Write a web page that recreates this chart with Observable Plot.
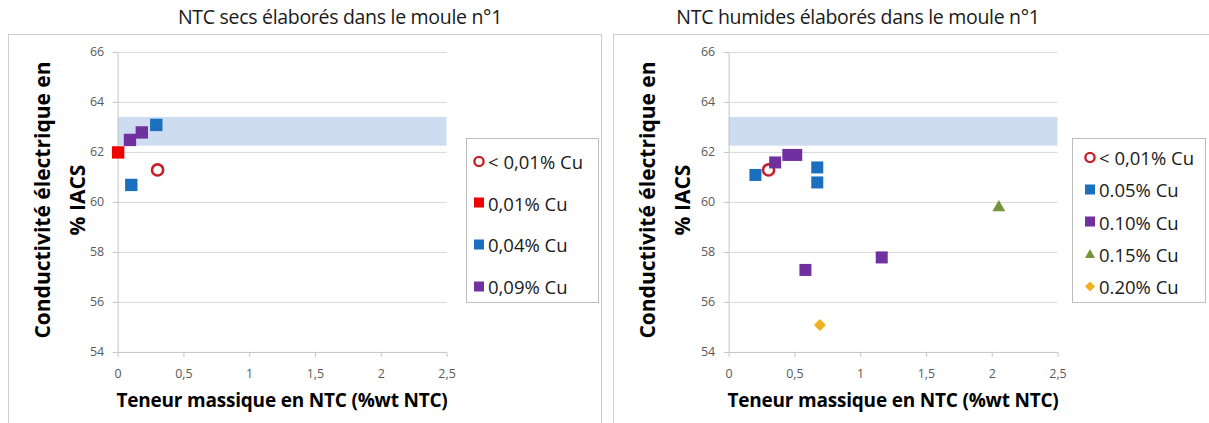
<!DOCTYPE html>
<html><head><meta charset="utf-8">
<script src="https://cdn.jsdelivr.net/npm/d3@7"></script>
<script src="https://cdn.jsdelivr.net/npm/@observablehq/plot@0.6"></script>
<style>
body{margin:0;background:#fff;font-family:"Open Sans",sans-serif;}
#root{position:relative;width:1209px;height:423px;overflow:hidden;background:#fff;}
.panel{position:absolute;border:1px solid #cfcfcf;box-sizing:border-box;background:#fff;}
.panel svg{position:absolute;left:0;top:0;}
.title{position:absolute;font-size:19.5px;letter-spacing:-0.3px;color:#1a1a1a;white-space:nowrap;transform:translate(-50%,-50%);}
.ylab{position:absolute;font-size:21px;font-weight:bold;color:#000;white-space:nowrap;text-align:center;line-height:35px;transform:translate(-50%,-50%) rotate(-90deg);}
.xlab{position:absolute;font-size:19px;letter-spacing:-0.2px;font-weight:bold;color:#000;white-space:nowrap;transform:translate(-50%,-50%);}
.legend{position:absolute;border:1px solid #bdbdbd;box-sizing:border-box;background:#fff;}
.li{position:absolute;font-size:18.5px;color:#1a1a1a;white-space:nowrap;display:flex;align-items:center;transform:translateY(-50%);}
.li svg{margin-right:3px;}
</style>
</head><body><div id="root"></div>
<script>
// ---- data ----
const xTicks = [0, 0.5, 1, 1.5, 2, 2.5];
const yTicks = [54, 56, 58, 60, 62, 64, 66];
const bandLow = 62.25, bandHigh = 63.4;

const titles = ["NTC secs élaborés dans le moule n°1", "NTC humides élaborés dans le moule n°1"];
const yLabelLines = ["Conductivité électrique en", "% IACS"];
const xLabel = "Teneur massique en NTC (%wt NTC)";

// dry CNT panel
const secSeries = ["< 0,01% Cu", "0,01% Cu", "0,04% Cu", "0,09% Cu"];
const secSeriesOf = ["< 0,01% Cu", "0,01% Cu", "0,09% Cu", "0,09% Cu", "0,04% Cu", "0,04% Cu"];
const secX = [0.30, 0.00, 0.09, 0.18, 0.29, 0.10];
const secY = [61.3, 62.0, 62.5, 62.8, 63.1, 60.7];

// wet CNT panel
const humSeries = ["< 0,01% Cu", "0.05% Cu", "0.10% Cu", "0.15% Cu", "0.20% Cu"];
const humSeriesOf = ["< 0,01% Cu", "0.05% Cu", "0.05% Cu", "0.05% Cu", "0.10% Cu", "0.10% Cu", "0.10% Cu", "0.10% Cu", "0.10% Cu", "0.15% Cu", "0.20% Cu"];
const humX = [0.30, 0.20, 0.67, 0.67, 0.35, 0.45, 0.51, 0.58, 1.16, 2.05, 0.69];
const humY = [61.3, 61.1, 61.4, 60.8, 61.6, 61.9, 61.9, 57.3, 57.8, 59.8, 55.1];

// ---- styles ----
const styleOf = {
  "< 0,01% Cu": {symbol: "circle", fill: "white", stroke: "#c8202a", r: 5.6, sw: 2.6},
  "0,01% Cu":   {symbol: "square", fill: "#f00000", stroke: "none", r: 7, sw: 0},
  "0,04% Cu":   {symbol: "square", fill: "#1b6fbf", stroke: "none", r: 7, sw: 0},
  "0,09% Cu":   {symbol: "square", fill: "#7030a0", stroke: "none", r: 7, sw: 0},
  "0.05% Cu":   {symbol: "square", fill: "#1b6fbf", stroke: "none", r: 6.8, sw: 0},
  "0.10% Cu":   {symbol: "square", fill: "#7030a0", stroke: "none", r: 6.8, sw: 0},
  "0.15% Cu":   {symbol: "triangle", fill: "#77933c", stroke: "none", r: 4.8, sw: 0},
  "0.20% Cu":   {symbol: "diamond2", fill: "#f2b01e", stroke: "none", r: 5.4, sw: 0}
};

const root = document.getElementById("root");
const fmtX = d => String(d).replace(".", ",");

function makePanel(cfg) {
  const data = cfg.xs.map((x, i) => ({x, y: cfg.ys[i], s: cfg.seriesOf[i]}));
  const panel = document.createElement("div");
  panel.className = "panel";
  Object.assign(panel.style, {left: cfg.left + "px", top: cfg.top + "px", width: cfg.width + "px", height: "400px"});
  root.appendChild(panel);

  const dotMarks = cfg.series.map(name => {
    const st = styleOf[name];
    return Plot.dot(data.filter(d => d.s === name), {
      x: "x", y: "y", symbol: st.symbol, r: st.r,
      fill: st.fill, stroke: st.stroke, strokeWidth: st.sw
    });
  });

  const svg = Plot.plot({
    width: cfg.width, height: 389,
    marginLeft: cfg.ml, marginRight: cfg.mr, marginTop: 17, marginBottom: 71,
    style: {fontFamily: "Open Sans, sans-serif", fontSize: "12.5px", color: "#595959", background: "transparent"},
    x: {domain: [0, 2.5]},
    y: {domain: [54, 66]},
    marks: [
      Plot.rect([{x1: 0, x2: 2.5, y1: bandLow, y2: bandHigh}], {x1: "x1", x2: "x2", y1: "y1", y2: "y2", fill: "#cddcf0"}),
      Plot.ruleY(yTicks.filter(t => t > 54), {stroke: "#d9d9d9", strokeWidth: 1}),
      Plot.ruleY([54], {stroke: "#c4c4c4"}),
      Plot.ruleX([0], {stroke: "#c4c4c4"}),
      Plot.axisX({ticks: xTicks, tickFormat: fmtX, tickSize: 5, tickPadding: 12, stroke: "#c4c4c4", fill: "#595959", label: null, fontSize: 12.5}),
      Plot.axisY({ticks: yTicks, tickFormat: d => String(d), tickSize: 5, tickPadding: 9, stroke: "#c4c4c4", fill: "#595959", label: null, fontSize: 12.5}),
      ...dotMarks
    ]
  });
  panel.appendChild(svg);

  // title
  const t = document.createElement("div");
  t.className = "title"; t.textContent = cfg.title;
  t.style.left = cfg.titleX + "px"; t.style.top = "16px";
  root.appendChild(t);

  // y label
  const yl = document.createElement("div");
  yl.className = "ylab";
  yl.innerHTML = yLabelLines.join("<br>");
  yl.style.left = (cfg.left + 52) + "px"; yl.style.top = "200px";
  root.appendChild(yl);

  // x label
  const xl = document.createElement("div");
  xl.className = "xlab"; xl.textContent = xLabel;
  xl.style.left = (cfg.left + cfg.ml + (cfg.width - cfg.ml - cfg.mr) / 2) + "px"; xl.style.top = "400px";
  root.appendChild(xl);

  // legend
  const lg = document.createElement("div");
  lg.className = "legend";
  Object.assign(lg.style, {left: cfg.lgLeft + "px", top: "138px", width: cfg.lgWidth + "px", height: "165px"});
  root.appendChild(lg);
  const n = cfg.series.length;
  const y0 = cfg.lgY0, y1 = 147;
  cfg.series.forEach((name, i) => {
    const st = styleOf[name];
    const it = document.createElement("div");
    it.className = "li";
    it.style.left = cfg.lgPad + "px";
    it.style.top = (y0 + (y1 - y0) * i / (n - 1)) + "px";
    let shape;
    if (st.symbol === "circle") shape = `<circle cx="6" cy="6" r="4.6" fill="white" stroke="${st.stroke}" stroke-width="2.4"/>`;
    else if (st.symbol === "square") shape = `<rect x="1" y="1" width="10" height="10" fill="${st.fill}"/>`;
    else if (st.symbol === "triangle") shape = `<path d="M6 1.5 L11 10.5 L1 10.5 Z" fill="${st.fill}"/>`;
    else shape = `<path d="M6 1 L11 6 L6 11 L1 6 Z" fill="${st.fill}"/>`;
    it.innerHTML = `<svg width="12" height="12">${shape}</svg><span>${name}</span>`;
    lg.appendChild(it);
  });
}

makePanel({left: 8, top: 34, width: 594, ml: 109, mr: 155, title: titles[0], titleX: 340,
  series: secSeries, seriesOf: secSeriesOf, xs: secX, ys: secY, lgLeft: 466, lgWidth: 133, lgPad: 6, lgY0: 22});
makePanel({left: 613, top: 34, width: 598, ml: 115, mr: 153, title: titles[1], titleX: 858,
  series: humSeries, seriesOf: humSeriesOf, xs: humX, ys: humY, lgLeft: 1072, lgWidth: 134, lgPad: 11, lgY0: 18});
</script>
</body></html>
